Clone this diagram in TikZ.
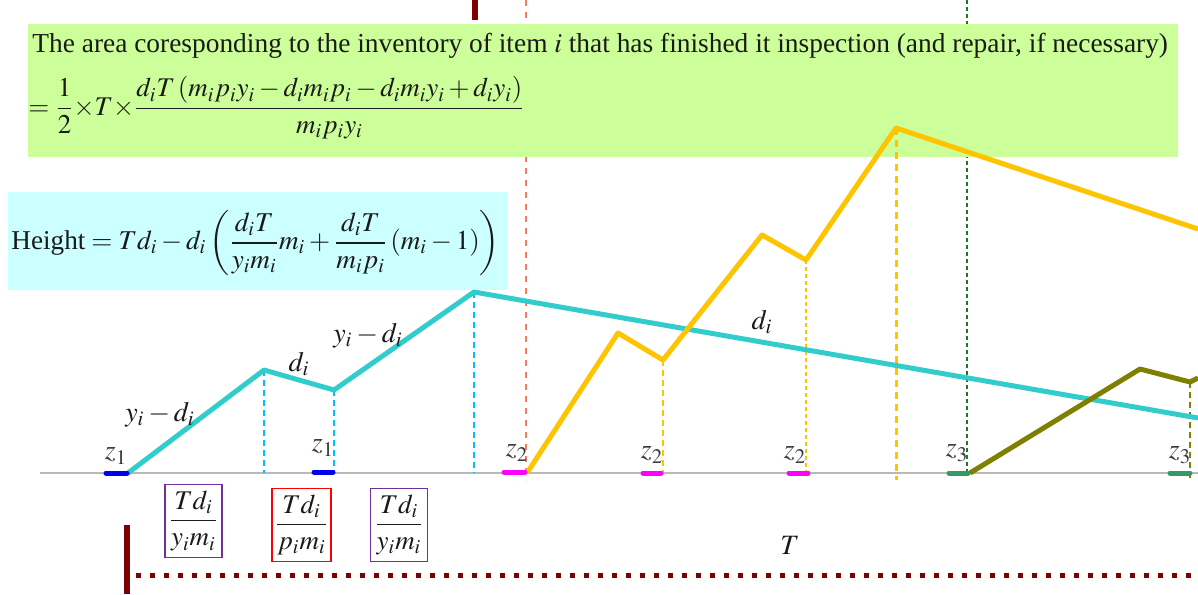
\documentclass[tikz,border=0pt]{standalone}
\usepackage{amsmath}
\usepackage{mathptmx}
\usepackage[no-math]{fontspec}
\setmainfont{Liberation Serif}
\definecolor{greenbox}{HTML}{CCFF99}
\definecolor{cyanbox}{HTML}{CCFFFF}
\definecolor{turq}{HTML}{33CCCC}
\definecolor{skyd}{HTML}{00BFFF}
\definecolor{orangeR}{HTML}{FF7A50}
\definecolor{yel}{HTML}{FFC400}
\definecolor{olivec}{HTML}{808000}
\definecolor{darkredc}{HTML}{7F0000}
\definecolor{dgreen}{HTML}{1F7A1F}
\definecolor{zblue}{HTML}{0000EE}
\definecolor{zmag}{HTML}{FF00FF}
\definecolor{zgreen}{HTML}{339966}
\definecolor{purplec}{HTML}{7030A0}
\definecolor{textc}{HTML}{1A1A1A}
\tikzset{
  txt/.style={inner sep=0pt, text=textc, font=\fontsize{13.7}{15}\selectfont},
  mth/.style={inner sep=0pt, text=textc, font=\fontsize{13.5}{15}\selectfont},
  hmth/.style={inner sep=0pt, text=textc, font=\fontsize{13.6}{15}\selectfont},
  lbl/.style={inner sep=0pt, text=textc, font=\fontsize{14}{16}\selectfont},
  zlbl/.style={inner sep=0pt, text=textc!85, font=\fontsize{14}{16}\selectfont},
  curve/.style={line width=2.5pt, line join=round},
  vdash/.style={line width=1.3pt, dash pattern=on 3pt off 2pt},
  zseg/.style={line width=2.5pt, line cap=round},
  fbox/.style={draw, line width=0.9pt, inner sep=1.5pt, minimum width=28.5pt, minimum height=36.5pt, text=textc, font=\fontsize{13.5}{15}\selectfont}
}
\begin{document}
\begin{tikzpicture}[x=0.5pt,y=-0.5pt]
\useasboundingbox (0,0) rectangle (1198,594);
% background verticals
\coordinate (ot) at (526,0); \coordinate (ob) at (526,480);
\draw[orangeR, line width=1pt, dash pattern=on 3pt off 3pt] (ot) -- (ob);
\coordinate (gt) at (967,0); \coordinate (gb) at (967,473);
\draw[dgreen, line width=1pt, dash pattern=on 2pt off 1.5pt] (gt) -- (gb);
\coordinate (rt) at (475,0); \coordinate (rb) at (475,20);
\draw[darkredc, line width=3pt] (rt) -- (rb);
% boxes
\node[fill=greenbox, minimum width=575pt, minimum height=66.5pt, inner sep=0pt, anchor=north west] (gbox) at (28,24) {};
\node[fill=cyanbox, minimum width=250pt, minimum height=49pt, inner sep=0pt, anchor=north west] (cbox) at (8,192) {};
\node[txt, anchor=west] (title) at (32,46) {The area coresponding to the inventory of item $i$ that has finished it inspection (and repair, if necessary)};
\node[mth, anchor=west] (area) at (28,108) {$\displaystyle ={\frac{1}{2}}{\times}T{\times}\frac{d_iT\left(m_ip_iy_i-d_im_ip_i-d_im_iy_i+d_iy_i\right)}{m_ip_iy_i}$};
\node[hmth, anchor=west] (height) at (11,243) {$\displaystyle \text{Height}=Td_i-d_i\left(\frac{d_iT}{y_im_i}m_i+\frac{d_iT}{m_ip_i}\left(m_i-1\right)\right)$};
% axis
\coordinate (a0) at (40,473); \coordinate (a1) at (1198,473);
\draw[gray!55, line width=1pt] (a0) -- (a1);
% cyan curve
\coordinate (c0) at (128,473);
\coordinate (c1) at (264,370);
\coordinate (c2) at (334,390);
\coordinate (c3) at (474,292);
\coordinate (c4) at (1198,418);
\coordinate (c1b) at (264,473);
\coordinate (c2b) at (334,473);
\coordinate (c3b) at (474,473);
\draw[skyd, vdash] (c1) -- (c1b);
\draw[skyd, vdash] (c2) -- (c2b);
\draw[skyd, vdash] (c3) -- (c3b);
% yellow curve
\coordinate (y0) at (527,473);
\coordinate (y1) at (618,333);
\coordinate (y2) at (663,360);
\coordinate (y3) at (762,235);
\coordinate (y4) at (806,260);
\coordinate (y5) at (896,128);
\coordinate (y6) at (1198,229);
\coordinate (y2b) at (663,473);
\coordinate (y4b) at (806,473);
\coordinate (y5b) at (896,480);
\draw[yel, line width=1.2pt, dash pattern=on 3pt off 2pt] (y2) -- (y2b);
\draw[yel, line width=0.8pt, dash pattern=on 2pt off 1.5pt] (y4) -- (y4b);
\draw[yel, line width=1.5pt, dash pattern=on 3.5pt off 2.5pt] (y5) -- (y5b);
% olive curve
\coordinate (o0) at (970,473);
\coordinate (o1) at (1140,369);
\coordinate (o2) at (1190,382);
\coordinate (o3) at (1198,378);
\coordinate (o2b) at (1190,480);
\draw[olivec, line width=1.2pt, dash pattern=on 3pt off 2pt] (o2) -- (o2b);
\draw[turq, curve] (c0) -- (c1) -- (c2) -- (c3) -- (c4);
\draw[yel, curve] (y0) -- (y1) -- (y2) -- (y3) -- (y4) -- (y5) -- (y6);
\draw[olivec, curve] (o0) -- (o1) -- (o2) -- (o3);
% slope labels
\node[lbl] (l1) at (160,415) {$y_i-d_i$};
\node[lbl] (l2) at (299,364) {$d_i$};
\node[lbl] (l3) at (368,336) {$y_i-d_i$};
\node[lbl] (l4) at (762,322) {$d_i$};
% z segments
\coordinate (z1a) at (106,473); \coordinate (z1b) at (127,473);
\coordinate (z2a) at (314,472); \coordinate (z2b) at (333,472);
\coordinate (z3a) at (504,472); \coordinate (z3b) at (525,472);
\coordinate (z4a) at (643,473); \coordinate (z4b) at (661,473);
\coordinate (z5a) at (789,473); \coordinate (z5b) at (808,473);
\coordinate (z6a) at (949,473); \coordinate (z6b) at (968,473);
\coordinate (z7a) at (1170,473); \coordinate (z7b) at (1190,473);
\draw[zblue, zseg] (z1a) -- (z1b);
\draw[zblue, zseg] (z2a) -- (z2b);
\draw[zmag, zseg] (z3a) -- (z3b);
\draw[zmag, zseg] (z4a) -- (z4b);
\draw[zmag, zseg] (z5a) -- (z5b);
\draw[zgreen, zseg] (z6a) -- (z6b);
\draw[zgreen, zseg] (z7a) -- (z7b);
\node[zlbl] (zl1) at (116,456) {$z_1$};
\node[zlbl] (zl2) at (323,448) {$z_1$};
\node[zlbl] (zl3) at (517,453) {$z_2$};
\node[zlbl] (zl4) at (652,455) {$z_2$};
\node[zlbl] (zl5) at (795,455) {$z_2$};
\node[zlbl] (zl6) at (957,453) {$z_3$};
\node[zlbl] (zl7) at (1180,455) {$z_3$};
% bottom boxes
\node[fbox, draw=purplec] (b1) at (193.5,521) {$\dfrac{Td_i}{y_im_i}$};
\node[fbox, draw=red] (b2) at (301.5,525) {$\dfrac{Td_i}{p_im_i}$};
\node[fbox, draw=purplec] (b3) at (399,525) {$\dfrac{Td_i}{y_im_i}$};
\node[lbl] (T) at (790,545) {$T$};
% period marker
\coordinate (pt) at (127,525); \coordinate (pb) at (127,594);
\draw[darkredc, line width=3pt] (pt) -- (pb);
\coordinate (dl) at (136,575); \coordinate (dr) at (1198,575);
\draw[darkredc, line width=2.5pt, dash pattern=on 2.5pt off 4.5pt] (dl) -- (dr);
\end{tikzpicture}
\end{document}
